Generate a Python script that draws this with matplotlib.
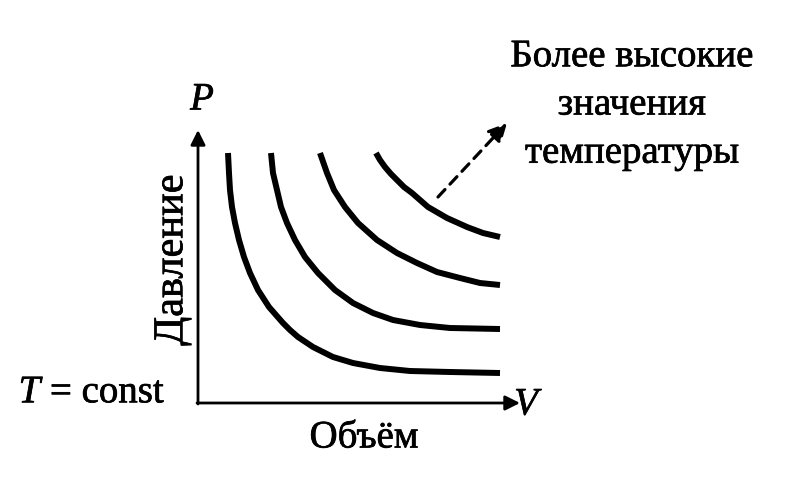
import matplotlib
matplotlib.use("Agg")
import matplotlib.pyplot as plt
import matplotlib.patheffects as pe

plt.rcParams["mathtext.fontset"] = "custom"
plt.rcParams["mathtext.it"] = "Liberation Serif:italic"
plt.rcParams["mathtext.rm"] = "Liberation Serif"

# isotherms (V, P in arbitrary units = px from origin)
v1 = [30, 31, 32, 34, 37, 41, 46, 52, 60, 71, 78, 85, 92, 100, 115, 135, 155, 182, 212, 252, 302]
p1 = [250, 230, 213, 196, 180, 163, 146, 130, 113, 96, 88, 80, 73, 66, 56, 46, 40, 35, 32, 31, 30]

v2 = [73, 75, 79, 83, 89, 97, 107, 120, 137, 155, 175, 195, 222, 252, 302]
p2 = [250, 230, 213, 196, 180, 163, 146, 130, 113, 100, 90, 83, 78, 75, 74]

v3 = [122, 129, 136, 147, 160, 179, 199, 219, 239, 262, 282, 302]
p3 = [250, 230, 213, 196, 180, 163, 150, 140, 131, 125, 120, 118]

v4 = [178, 182, 187, 193, 199, 206, 214, 230, 249, 269, 285, 302]
p4 = [250, 243, 236, 229, 223, 216, 210, 196, 185, 176, 170, 166]

curves = [(v1, p1), (v2, p2), (v3, p3), (v4, p4)]

# arrow pointing to higher temperatures
arrow_start = (240, 206)
arrow_end = (309, 280)

W, H = 795, 483
fig = plt.figure(figsize=(W / 100, H / 100), dpi=100)
ax = fig.add_axes([198 / W, 80 / H, 320 / W, 271 / H])
ax.set_xlim(0, 320)
ax.set_ylim(0, 271)
ax.axis("off")

for v, p in curves:
    ax.plot(v, p, color="black", lw=4.3, solid_capstyle="butt", solid_joinstyle="round", clip_on=False)

# axes with arrows
ax.annotate("", xy=(322, 0), xytext=(-1, 0), annotation_clip=False,
            arrowprops=dict(arrowstyle="-|>", lw=2.0, color="black", mutation_scale=22, shrinkA=0, shrinkB=0))
ax.annotate("", xy=(0, 273), xytext=(0, -1), annotation_clip=False,
            arrowprops=dict(arrowstyle="-|>", lw=2.0, color="black", mutation_scale=22, shrinkA=0, shrinkB=0))

ax.annotate("", xy=arrow_end, xytext=arrow_start, annotation_clip=False,
            arrowprops=dict(arrowstyle="-|>,head_length=0.5,head_width=0.25", lw=2.3, color="black",
                            linestyle=(0, (3.2, 2.3)), mutation_scale=22, shrinkA=0, shrinkB=0))

font = "Liberation Serif"
bold = [pe.withStroke(linewidth=0.5, foreground="black")]

def ftext(x, y, s, fs=28, **kw):
    fig.text(x / W, 1 - y / H, s, family=font, fontsize=fs, path_effects=bold, **kw)

ftext(202, 100, "P", style="italic", ha="center", va="center")
ftext(526, 405, "V", style="italic", ha="center", va="center")
ftext(92, 393, "$T$ = const", ha="center", va="center")
ftext(364, 438, "Объём", ha="center", va="center")
ftext(172, 260, "Давление", fs=30.5, ha="center", va="center", rotation=90)
ftext(632, 105, "Более высокие\nзначения\nтемпературы", ha="center", va="center",
      linespacing=1.4)

fig.savefig("out.png", dpi=100)
